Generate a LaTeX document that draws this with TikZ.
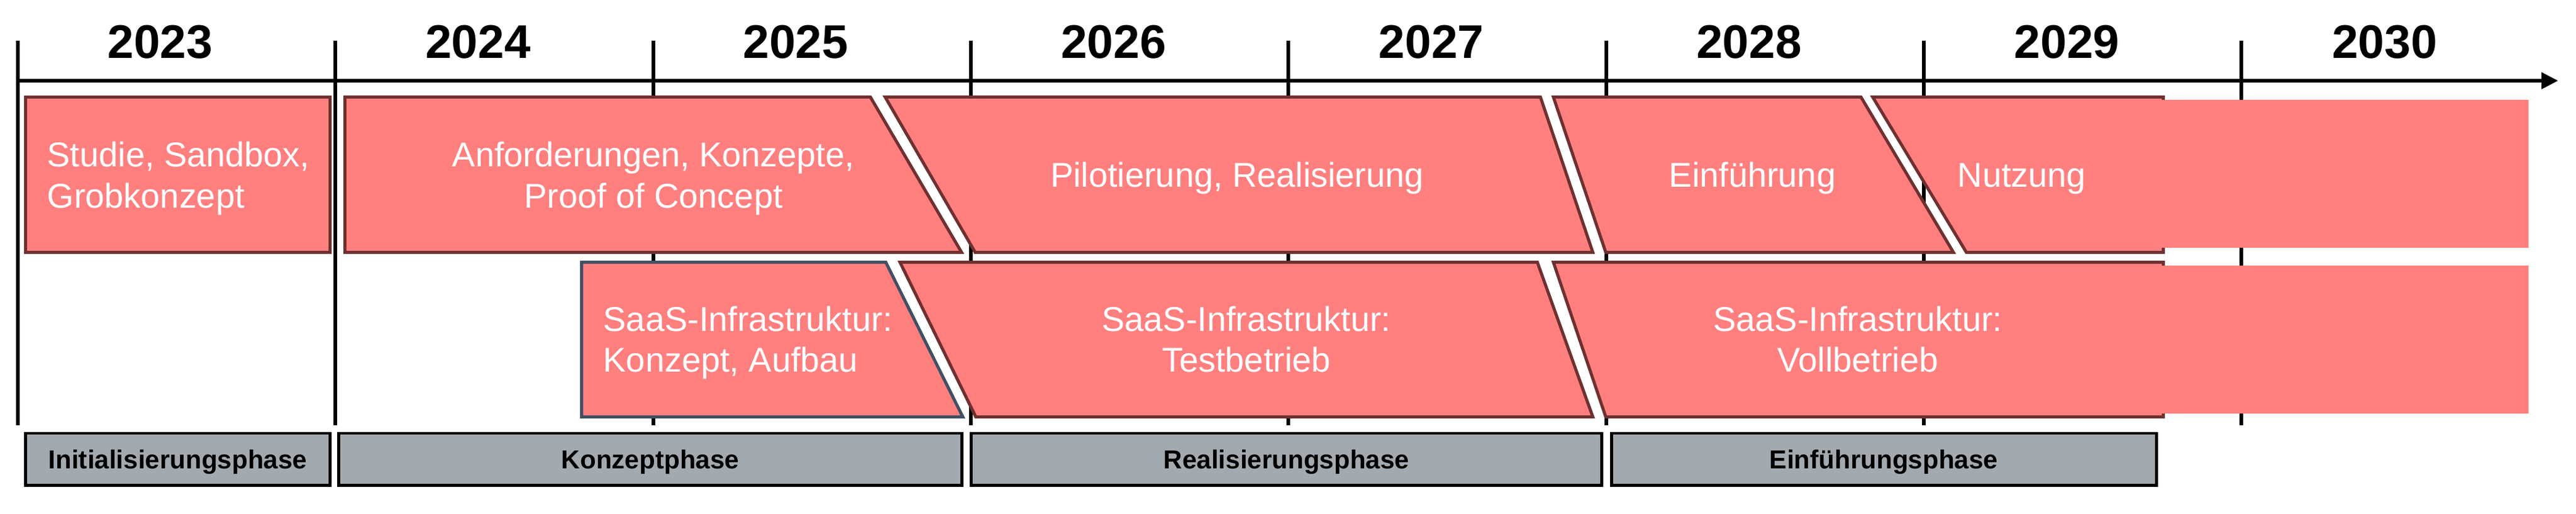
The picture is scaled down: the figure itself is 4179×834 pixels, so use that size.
\documentclass[tikz,border=0pt]{standalone}
\usepackage{fontspec}
\setmainfont{Liberation Sans}
\usetikzlibrary{arrows.meta}
\definecolor{barfill}{HTML}{FF7F7F}
\definecolor{barline}{HTML}{6E3030}
\definecolor{slateline}{HTML}{415063}
\definecolor{phasefill}{HTML}{A2A9AF}
\tikzset{
  tickline/.style={line width=1.7pt, black},
  axisline/.style={line width=1.7pt, black, -{Triangle[length=2.7mm,width=2.6mm]}},
  bar/.style={fill=barfill, draw=barline, line width=1.42pt},
  slatebar/.style={fill=barfill, draw=slateline, line width=1.42pt},
  barext/.style={fill=barfill, draw=none},
  phasebox/.style={fill=phasefill, draw=black, line width=1.42pt},
  yeartxt/.style={font=\bfseries\fontsize{21.8}{25}\selectfont, inner sep=0pt, anchor=base},
  phasetxt/.style={font=\bfseries\fontsize{12}{14}\selectfont, inner sep=0pt, anchor=base},
  boxtxt/.style={text=white, font=\fontsize{15.9}{18.8}\selectfont, inner sep=0pt},
}
\begin{document}
\begin{tikzpicture}[x=0.1mm,y=-0.1mm]
\useasboundingbox (0,0) rectangle (4179,834);
% ticks
\foreach \i in {0,...,7}
  \draw[tickline] ({29+515.3*\i},66) -- ({29+515.3*\i},690);
% axis
\coordinate (axstart) at (26,131);
\coordinate (axend) at (4150,131);
\draw[axisline] (axstart) -- (axend);
% years
\foreach \y [count=\i from 0] in {2023,2024,2025,2026,2027,2028,2029,2030}
  \node[yeartxt] (y\y) at ({260+515.5*\i},95) {\y};
% row 1
\draw[bar] (41.5,157.5) rectangle (535.5,409.5);
\draw[bar] (559.5,157.5) -- (1412,157.5) -- (1560,409.5) -- (559.5,409.5) -- cycle;
\draw[bar] (1436,157.5) -- (2499,157.5) -- (2584,409.5) -- (1582,409.5) -- cycle;
\draw[bar] (2520,157.5) -- (3019,157.5) -- (3169,409.5) -- (2605,409.5) -- cycle;
\draw[bar] (3038,157.5) -- (3509.5,157.5) -- (3509.5,409.5) -- (3190,409.5) -- cycle;
\fill[barext] (3507,162) rectangle (4102,402);
% row 2
\draw[slatebar] (943.5,425.5) -- (1437,425.5) -- (1562,676.5) -- (943.5,676.5) -- cycle;
\draw[bar] (1460,425.5) -- (2494,425.5) -- (2584,676.5) -- (1583,676.5) -- cycle;
\draw[bar] (2520,425.5) -- (3509.5,425.5) -- (3509.5,676.5) -- (2605,676.5) -- cycle;
\fill[barext] (3507,431) rectangle (4102,671);
% texts row 1
\node[boxtxt, anchor=base west] (t1) at (76,271)
  {\begin{tabular}[t]{@{}l@{}}Studie, Sandbox,\\Grobkonzept\end{tabular}};
\node[boxtxt, anchor=base] (t2) at (1060,271)
  {\begin{tabular}[t]{@{}c@{}}Anforderungen, Konzepte,\\Proof of Concept\end{tabular}};
\node[boxtxt, anchor=base] (t3) at (2007,304) {Pilotierung, Realisierung};
\node[boxtxt, anchor=base] (t4) at (2843,304) {Einführung};
\node[boxtxt, anchor=base west] (t5) at (3175,304) {Nutzung};
% texts row 2
\node[boxtxt, anchor=base west] (s1) at (978,537)
  {\begin{tabular}[t]{@{}l@{}}SaaS-Infrastruktur:\\Konzept, Aufbau\end{tabular}};
\node[boxtxt, anchor=base] (s2) at (2022,537)
  {\begin{tabular}[t]{@{}c@{}}SaaS-Infrastruktur:\\Testbetrieb\end{tabular}};
\node[boxtxt, anchor=base] (s3) at (3014,537)
  {\begin{tabular}[t]{@{}c@{}}SaaS-Infrastruktur:\\Vollbetrieb\end{tabular}};
% phases
\draw[phasebox] (41.5,703) rectangle (535.5,787.5);
\draw[phasebox] (549,703) rectangle (1560.5,787.5);
\draw[phasebox] (1575.5,703) rectangle (2598.5,787.5);
\draw[phasebox] (2614.5,703) rectangle (3498.5,787.5);
\node[phasetxt] (p1) at (288.5,760) {Initialisierungsphase};
\node[phasetxt] (p2) at (1055,760) {Konzeptphase};
\node[phasetxt] (p3) at (2087,760) {Realisierungsphase};
\node[phasetxt] (p4) at (3056,760) {Einführungsphase};
\end{tikzpicture}
\end{document}
